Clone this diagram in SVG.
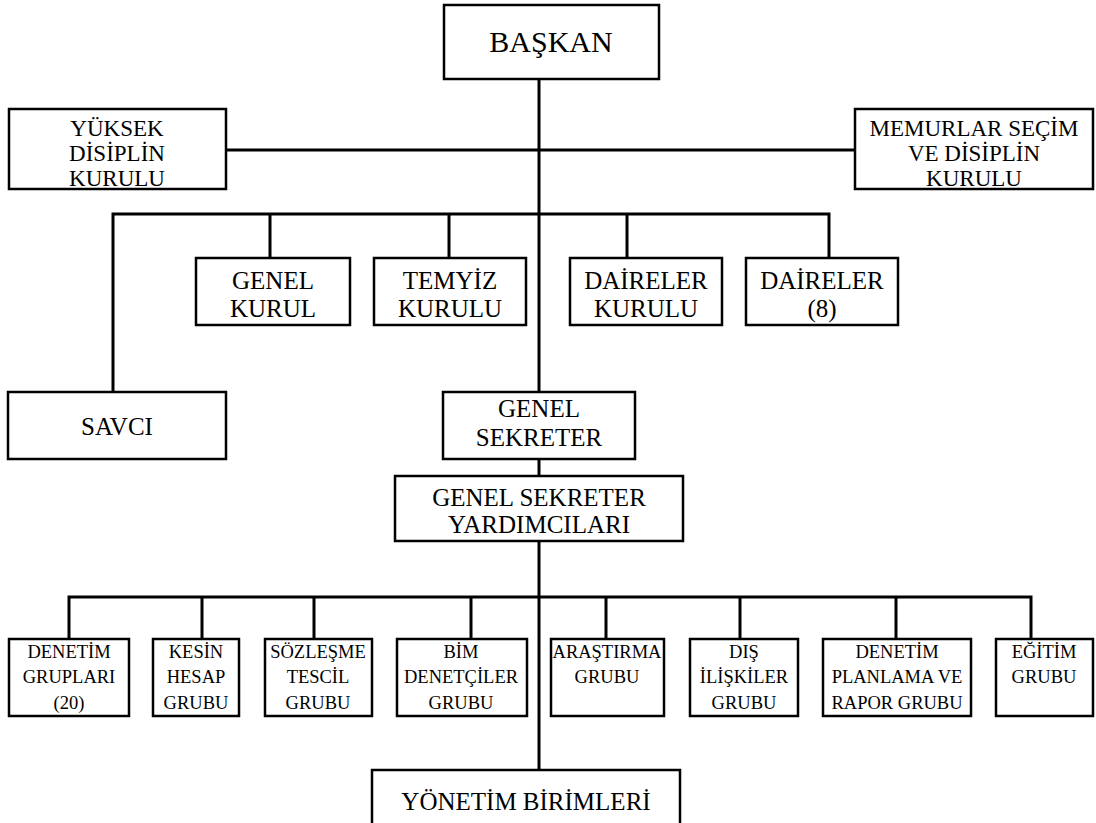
<svg xmlns="http://www.w3.org/2000/svg" width="1096" height="823" viewBox="0 0 1096 823">
  <style>
    .box { fill: #ffffff; stroke: #000000; stroke-width: 2.5; }
    .ln { stroke: #000000; stroke-width: 3; fill: none; stroke-linecap: butt; }
    text { font-family: "Times New Roman", "Liberation Serif", "DejaVu Serif", serif; fill: #000000; text-anchor: middle; }
    .t30 { font-size: 30px; }
    .t25 { font-size: 25px; }
    .t23 { font-size: 23px; }
    .t18 { font-size: 18.5px; }
  </style>
  <rect width="1096" height="823" fill="#ffffff"/>

  <!-- connectors -->
  <g id="connectors">
    <!-- main spine -->
    <line class="ln" x1="539" y1="79" x2="539" y2="392"/>
    <line class="ln" x1="539" y1="459" x2="539" y2="476"/>
    <line class="ln" x1="539" y1="541" x2="539" y2="770"/>
    <!-- disciplinary boards -->
    <line class="ln" x1="226" y1="150" x2="855" y2="150"/>
    <!-- upper branch bus -->
    <polyline class="ln" points="113,392 113,214 829,214 829,258"/>
    <line class="ln" x1="270" y1="214" x2="270" y2="258"/>
    <line class="ln" x1="449" y1="214" x2="449" y2="258"/>
    <line class="ln" x1="627" y1="214" x2="627" y2="258"/>
    <!-- lower branch bus -->
    <polyline class="ln" points="69,639 69,597 1031,597 1031,639"/>
    <line class="ln" x1="202" y1="597" x2="202" y2="639"/>
    <line class="ln" x1="314" y1="597" x2="314" y2="639"/>
    <line class="ln" x1="471" y1="597" x2="471" y2="639"/>
    <line class="ln" x1="606" y1="597" x2="606" y2="639"/>
    <line class="ln" x1="740" y1="597" x2="740" y2="639"/>
    <line class="ln" x1="896" y1="597" x2="896" y2="639"/>
  </g>

  <g id="baskan">
    <rect class="box" x="444" y="5" width="215" height="74"/>
    <text class="t30" x="551" y="52">BAŞKAN</text>
  </g>

  <g id="yuksek-disiplin">
    <rect class="box" x="9" y="109" width="217" height="80"/>
    <text class="t23" x="117" y="136">YÜKSEK</text>
    <text class="t23" x="117" y="161">DİSİPLİN</text>
    <text class="t23" x="117" y="186">KURULU</text>
  </g>

  <g id="memurlar">
    <rect class="box" x="855" y="109" width="238" height="80"/>
    <text class="t23" x="974" y="136">MEMURLAR SEÇİM</text>
    <text class="t23" x="974" y="161">VE DİSİPLİN</text>
    <text class="t23" x="974" y="186">KURULU</text>
  </g>

  <g id="genel-kurul">
    <rect class="box" x="196" y="258" width="154" height="67"/>
    <text class="t25" x="273" y="289">GENEL</text>
    <text class="t25" x="273" y="317">KURUL</text>
  </g>

  <g id="temyiz">
    <rect class="box" x="374" y="258" width="152" height="67"/>
    <text class="t25" x="450" y="289">TEMYİZ</text>
    <text class="t25" x="450" y="317">KURULU</text>
  </g>

  <g id="daireler-kurulu">
    <rect class="box" x="570" y="258" width="152" height="67"/>
    <text class="t25" x="646" y="289">DAİRELER</text>
    <text class="t25" x="646" y="317">KURULU</text>
  </g>

  <g id="daireler">
    <rect class="box" x="746" y="258" width="152" height="67"/>
    <text class="t25" x="822" y="289">DAİRELER</text>
    <text class="t25" x="822" y="317">(8)</text>
  </g>

  <g id="savci">
    <rect class="box" x="8" y="392" width="218" height="67"/>
    <text class="t25" x="117" y="435">SAVCI</text>
  </g>

  <g id="genel-sekreter">
    <rect class="box" x="443" y="392" width="192" height="67"/>
    <text class="t25" x="539" y="417">GENEL</text>
    <text class="t25" x="539" y="446">SEKRETER</text>
  </g>

  <g id="genel-sekreter-yardimcilari">
    <rect class="box" x="395" y="476" width="288" height="65"/>
    <text class="t25" x="539" y="506">GENEL SEKRETER</text>
    <text class="t25" x="539" y="533">YARDIMCILARI</text>
  </g>

  <g id="denetim-gruplari">
    <rect class="box" x="9" y="639" width="120" height="77"/>
    <text class="t18" x="69" y="658">DENETİM</text>
    <text class="t18" x="69" y="683">GRUPLARI</text>
    <text class="t18" x="69" y="709">(20)</text>
  </g>

  <g id="kesin-hesap">
    <rect class="box" x="153" y="639" width="86" height="77"/>
    <text class="t18" x="196" y="658">KESİN</text>
    <text class="t18" x="196" y="683">HESAP</text>
    <text class="t18" x="196" y="709">GRUBU</text>
  </g>

  <g id="sozlesme-tescil">
    <rect class="box" x="265" y="639" width="107" height="77"/>
    <text class="t18" x="318" y="658">SÖZLEŞME</text>
    <text class="t18" x="318" y="683">TESCİL</text>
    <text class="t18" x="318" y="709">GRUBU</text>
  </g>

  <g id="bim-denetciler">
    <rect class="box" x="397" y="639" width="130" height="77"/>
    <text class="t18" x="461" y="658">BİM</text>
    <text class="t18" x="461" y="683">DENETÇİLER</text>
    <text class="t18" x="461" y="709">GRUBU</text>
  </g>

  <g id="arastirma">
    <rect class="box" x="551" y="639" width="113" height="77"/>
    <text class="t18" x="607" y="658">ARAŞTIRMA</text>
    <text class="t18" x="607" y="683">GRUBU</text>
  </g>

  <g id="dis-iliskiler">
    <rect class="box" x="690" y="639" width="108" height="77"/>
    <text class="t18" x="744" y="658">DIŞ</text>
    <text class="t18" x="744" y="683">İLİŞKİLER</text>
    <text class="t18" x="744" y="709">GRUBU</text>
  </g>

  <g id="denetim-planlama">
    <rect class="box" x="823" y="639" width="148" height="77"/>
    <text class="t18" x="897" y="658">DENETİM</text>
    <text class="t18" x="897" y="683">PLANLAMA VE</text>
    <text class="t18" x="897" y="709">RAPOR GRUBU</text>
  </g>

  <g id="egitim">
    <rect class="box" x="996" y="639" width="97" height="77"/>
    <text class="t18" x="1044" y="658">EĞİTİM</text>
    <text class="t18" x="1044" y="683">GRUBU</text>
  </g>

  <g id="yonetim-birimleri">
    <rect class="box" x="372" y="770" width="308" height="70"/>
    <text class="t25" x="526" y="810">YÖNETİM BİRİMLERİ</text>
  </g>
</svg>
